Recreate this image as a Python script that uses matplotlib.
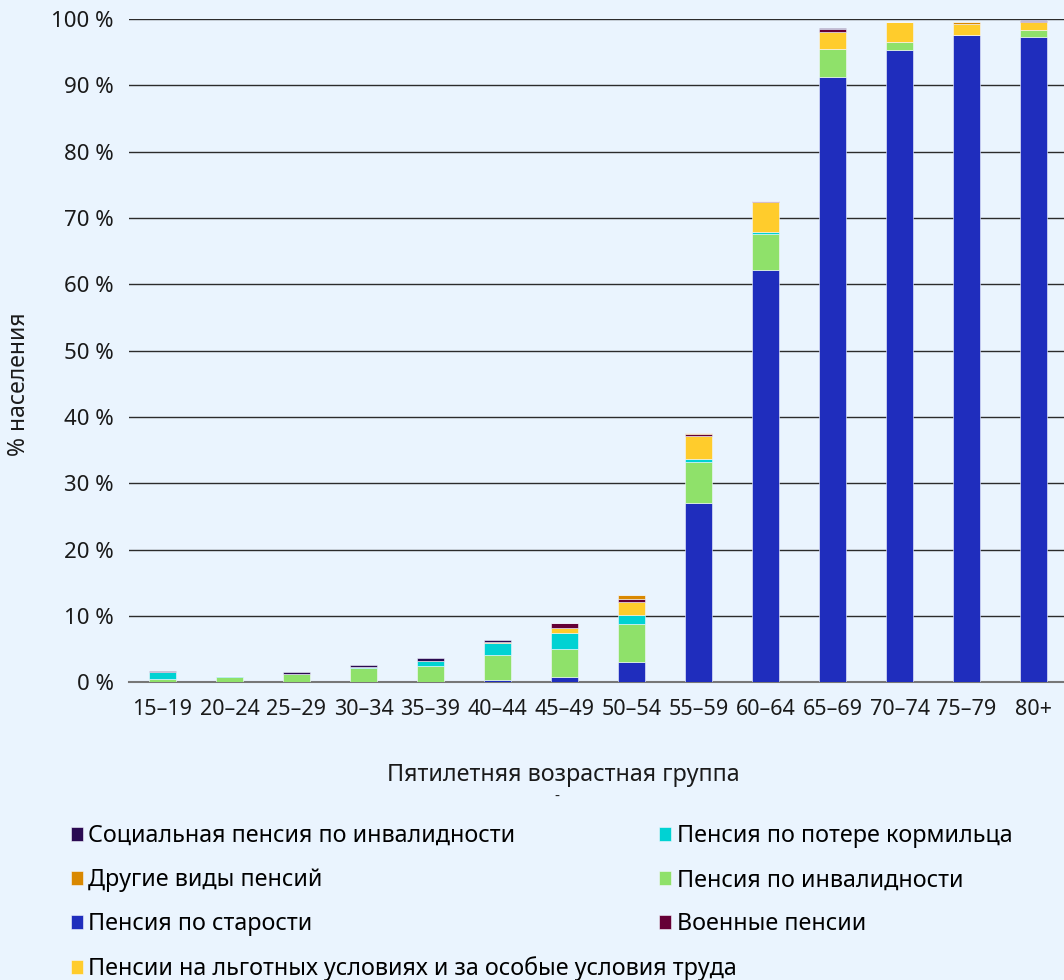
import matplotlib
matplotlib.use("Agg")
import matplotlib.pyplot as plt
import numpy as np

plt.rcParams['font.family'] = ['Noto Sans', 'DejaVu Sans']

age_groups = ["15–19", "20–24", "25–29", "30–34", "35–39", "40–44", "45–49",
              "50–54", "55–59", "60–64", "65–69", "70–74", "75–79", "80+"]

# доли населения, %
old_age      = [0.0, 0.0, 0.0, 0.0, 0.1, 0.4, 0.8, 3.1, 27.0, 62.1, 91.2, 95.4, 97.6, 97.3]
disability   = [0.45, 0.9, 1.3, 2.15, 2.45, 3.75, 4.3, 5.75, 6.3, 5.5, 4.3, 1.1, 0.0, 1.05]
survivor     = [1.1, 0.15, 0.05, 0.25, 0.7, 1.85, 2.3, 1.25, 0.4, 0.35, 0.0, 0.0, 0.0, 0.0]
preferential = [0.0, 0.0, 0.0, 0.0, 0.0, 0.0, 0.85, 2.1, 3.45, 4.4, 2.6, 3.1, 1.65, 1.2]
military     = [0.0, 0.0, 0.0, 0.0, 0.0, 0.0, 0.7, 0.45, 0.3, 0.2, 0.35, 0.0, 0.0, 0.15]
other        = [0.0, 0.0, 0.0, 0.0, 0.0, 0.15, 0.0, 0.5, 0.2, 0.0, 0.0, 0.0, 0.25, 0.0]
social_dis   = [0.2, 0.0, 0.3, 0.3, 0.45, 0.3, 0.0, 0.0, 0.0, 0.0, 0.2, 0.0, 0.0, 0.15]

series = [
    ("Пенсия по старости", old_age, "#1f2dbd"),
    ("Пенсия по инвалидности", disability, "#8fe16a"),
    ("Пенсия по потере кормильца", survivor, "#00d2d3"),
    ("Пенсии на льготных условиях и за особые условия труда", preferential, "#ffcc2c"),
    ("Военные пенсии", military, "#650036"),
    ("Другие виды пенсий", other, "#d98800"),
    ("Социальная пенсия по инвалидности", social_dis, "#2a0a52"),
]

bg = "#eaf4fe"
fig = plt.figure(figsize=(10.64, 9.8), dpi=100, facecolor=bg)
ax = fig.add_axes([0.1212, 0.3036, 0.8788, 0.677], facecolor=bg)

x = np.arange(len(age_groups))
bottom = np.zeros(len(age_groups))
handles = {}
for name, vals, color in series:
    vals = np.array(vals)
    b = ax.bar(x, vals, 0.40, bottom=bottom, color=color, label=name,
               edgecolor="#f4f8ff", linewidth=0.4, zorder=3)
    handles[name] = b
    bottom += vals

ax.set_xlim(-0.5, 13.455)
ax.set_ylim(0, 100)
ax.set_yticks(np.arange(0, 101, 10))
ax.set_yticklabels([f"{v} %" for v in range(0, 101, 10)], fontsize=16)
ax.set_xticks(x)
ax.set_xticklabels(age_groups, fontsize=15.5)
ax.tick_params(axis="x", length=0, pad=12, colors="#1a1a1a")
ax.tick_params(axis="y", length=0, pad=11, colors="#1a1a1a")
ax.yaxis.grid(True, color="#2b2b2b", linewidth=1.0, zorder=1)
ax.set_axisbelow(True)
for s in ["top", "right", "left"]:
    ax.spines[s].set_visible(False)
ax.spines["bottom"].set_color("#777777")
ax.spines["bottom"].set_linewidth(1.5)

fig.text(0.018, 0.608, "% населения", rotation=90, ha="center", va="center",
         fontsize=16.5, color="#1a1a1a")
fig.text(0.529, 0.203, "Пятилетняя возрастная группа", ha="center",
         fontsize=16.8, color="#1a1a1a")
fig.text(0.523, 0.183, "-", ha="center", fontsize=11, color="#1a1a1a")

legend_kw = dict(frameon=False, fontsize=16.8, handlelength=0.5, handleheight=0.5,
                 handletextpad=0.25, labelspacing=0.86, borderpad=0,
                 borderaxespad=0, loc="upper left")
left_items = ["Социальная пенсия по инвалидности", "Другие виды пенсий",
              "Пенсия по старости",
              "Пенсии на льготных условиях и за особые условия труда"]
right_items = ["Пенсия по потере кормильца", "Пенсия по инвалидности",
               "Военные пенсии"]
fig.legend([handles[n] for n in left_items], left_items,
           bbox_to_anchor=(0.0667, 0.159), **legend_kw)
fig.legend([handles[n] for n in right_items], right_items,
           bbox_to_anchor=(0.6194, 0.159), **legend_kw)

fig.savefig("out.png", dpi=100, facecolor=bg)
